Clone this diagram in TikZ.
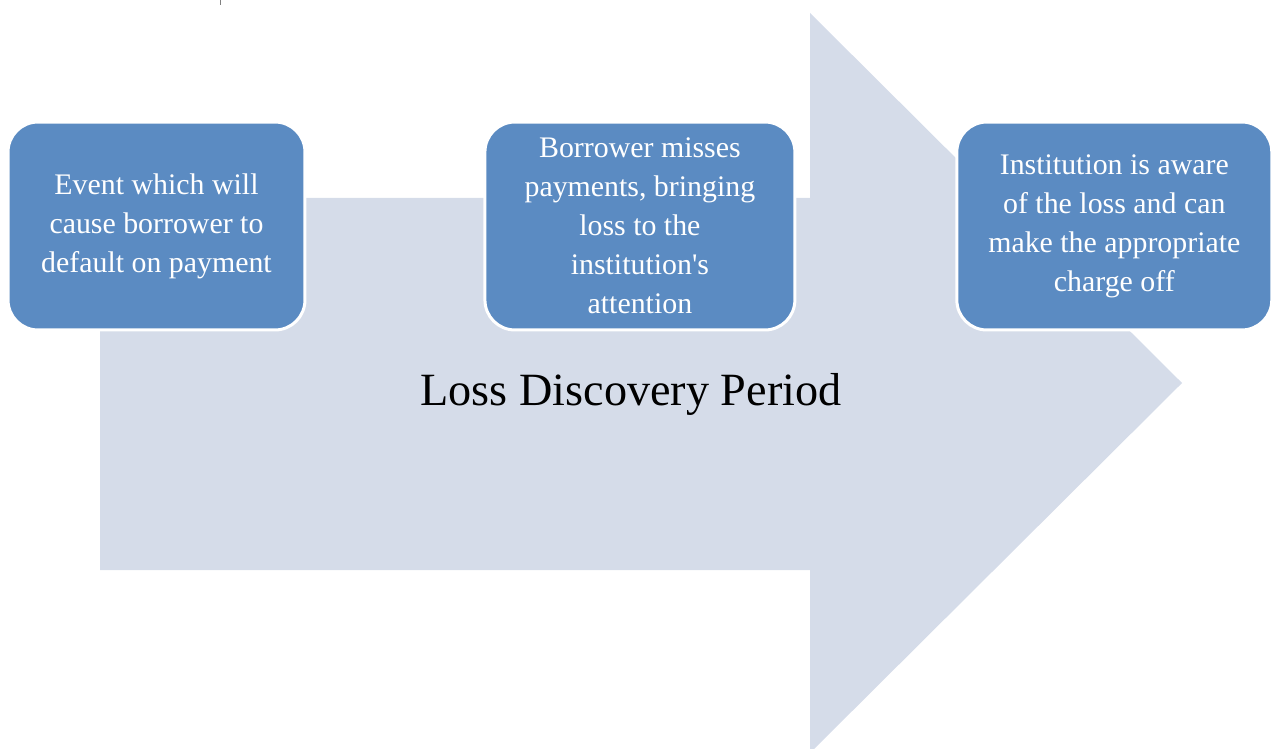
\documentclass[tikz,border=0pt]{standalone}
\usepackage{fontspec}
\setmainfont{Liberation Serif}
\usepackage{xcolor}
\usetikzlibrary{positioning}

\definecolor{arrowgray}{HTML}{D5DCE9}
\definecolor{boxblue}{HTML}{5B8BC2}

\begin{document}
\begin{tikzpicture}[x=0.02cm,y=-0.02cm]
        \tikzstyle{stepbox} = [draw=white, line width=0.06cm, fill=boxblue, rounded corners=0.6cm, minimum height=4.16cm, text=white, align=center, font=\fontsize{17}{22.2}\selectfont, inner sep=0pt]
        \useasboundingbox (0,0) rectangle (1273,749);

        % big arrow in the back
        \fill[arrowgray] (100,198) -- (810,198) -- (810,13) -- (1182,383) -- (810,753) -- (810,570) -- (100,570) -- cycle;
        \draw[gray, line width=0.4pt] (220,0) -- (220,5);

        \node[stepbox, minimum width=5.94cm] (event) at (156.5,226) {Event which will\\cause borrower to\\default on payment};
        \node[stepbox, minimum width=6.2cm, right = 3.54cm of event] (miss) {Borrower misses\\payments, bringing\\loss to the\\institution\textquotesingle s\\attention};
        \node[stepbox, minimum width=6.3cm, right = 3.18cm of miss] (aware) {Institution is aware\\of the loss and can\\make the appropriate\\charge off};

        \node[font=\fontsize{26.3}{30}\selectfont] (period) at (631,394) {Loss Discovery Period};
\end{tikzpicture}
\end{document}
